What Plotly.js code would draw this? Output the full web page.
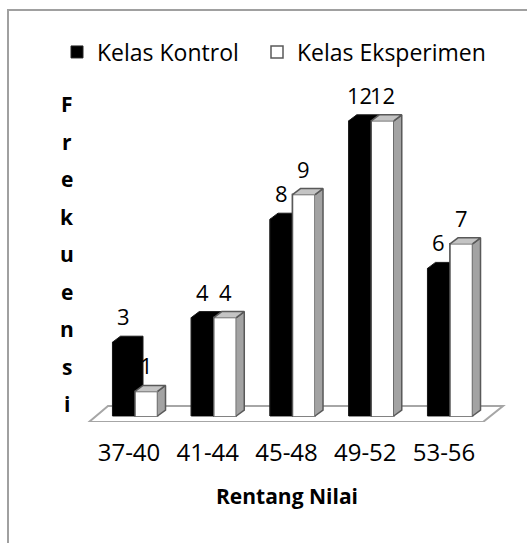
<!DOCTYPE html>
<html>
<head>
<meta charset="utf-8">
<script src="https://cdn.plot.ly/plotly-3.0.1.min.js"></script>
<style>html,body{margin:0;padding:0;background:#fff;}#chart{width:527px;height:543px;}</style>
</head>
<body>
<div id="chart"></div>
<script>
// ---- data ----
const categories = ['37-40', '41-44', '45-48', '49-52', '53-56'];
const kontrol = [3, 4, 8, 12, 6];
const eksperimen = [1, 4, 9, 12, 7];
const seriesNames = ['Kelas Kontrol', 'Kelas Eksperimen'];
const yTitle = 'Frekuensi';
const xTitle = 'Rentang Nilai';

// ---- geometry / style ----
const W = 527, H = 543;
const plotBottomPx = 422;           // bottom of plot area (floor front edge)
const pxPerCat = 78.75, zeroCatPx = 135;
const pxPerUnit = 24.6, zeroValPx = 416;
const barW = 0.286;                 // bar width in category units
const dX = 8 / pxPerCat, dY = 6 / pxPerUnit;   // 3D depth offset
const FONT = 'Open Sans, Noto Sans, sans-serif';

const idx = categories.map((c, i) => i);
const xRange = [-zeroCatPx / pxPerCat, (W - zeroCatPx) / pxPerCat];
const yRange = [-(plotBottomPx - zeroValPx) / pxPerUnit, zeroValPx / pxPerUnit];

function poly(pts, xs, ys) {
  pts.forEach(p => { xs.push(p[0]); ys.push(p[1]); });
  xs.push(null); ys.push(null);
}

// Kontrol prisms (all black)
const kX = [], kY = [];
// Eksperimen faces
const eFx = [], eFy = [], eSx = [], eSy = [], eTx = [], eTy = [];
idx.forEach(i => {
  const v = kontrol[i];
  const a = i - barW, b = i;
  poly([[a, 0], [a, v], [a + dX, v + dY], [b + dX, v + dY], [b + dX, dY], [b, 0]], kX, kY);
  const u = eksperimen[i];
  const c = i, d = i + barW;
  poly([[c, 0], [c, u], [d, u], [d, 0]], eFx, eFy);
  poly([[d, 0], [d + dX, dY], [d + dX, u + dY], [d, u]], eSx, eSy);
  poly([[c, u], [c + dX, u + dY], [d + dX, u + dY], [d, u]], eTx, eTy);
});

const edge = '#595959';
const traces = [
  {type: 'bar', name: seriesNames[0], x: idx, y: kontrol, base: 0, legend: 'legend',
   marker: {color: '#000000', line: {color: '#262626', width: 1}}, hoverinfo: 'skip'},
  {type: 'bar', name: seriesNames[1], x: idx, y: eksperimen, base: 0, legend: 'legend2',
   marker: {color: '#ffffff', line: {color: edge, width: 1.5}}, hoverinfo: 'skip'},
  {type: 'scatter', mode: 'lines', x: kX, y: kY, fill: 'toself', fillcolor: '#000000',
   line: {color: '#1a1a1a', width: 1}, showlegend: false, hoverinfo: 'skip'},
  {type: 'scatter', mode: 'lines', x: eFx, y: eFy, fill: 'toself', fillcolor: '#ffffff',
   line: {color: edge, width: 1.5}, showlegend: false, hoverinfo: 'skip'},
  {type: 'scatter', mode: 'lines', x: eSx, y: eSy, fill: 'toself', fillcolor: '#a3a3a3',
   line: {color: edge, width: 1.5}, showlegend: false, hoverinfo: 'skip'},
  {type: 'scatter', mode: 'lines', x: eTx, y: eTy, fill: 'toself', fillcolor: '#c4c4c4',
   line: {color: edge, width: 1.5}, showlegend: false, hoverinfo: 'skip'}
];

// floor (parallelogram under the bars)
const n = categories.length;
const fy0 = yRange[0], fy1 = 10 / pxPerUnit;
const floorPath = 'M ' + (0 - 0.584) + ',' + fy0 + ' L ' + (n - 1 + 0.419) + ',' + fy0 +
  ' L ' + (n - 1 + 0.673) + ',' + fy1 + ' L ' + (0 - 0.343) + ',' + fy1 + ' Z';

const shapes = [
  {type: 'path', xref: 'x', yref: 'y', path: floorPath, layer: 'below',
   fillcolor: '#ffffff', line: {color: '#a6a6a6', width: 2}},
  {type: 'rect', xref: 'paper', yref: 'paper', x0: 8 / W, x1: 1.2,
   y0: -1, y1: (plotBottomPx - 10) / plotBottomPx, layer: 'below',
   line: {color: '#a0a0a0', width: 2}, fillcolor: 'rgba(0,0,0,0)'}
];

const annotations = [];
// data labels
idx.forEach(i => {
  annotations.push({x: i - barW / 2, y: kontrol[i], text: String(kontrol[i]), showarrow: false,
    yanchor: 'middle', yshift: 26, font: {family: FONT, size: 22, color: '#000'}});
  annotations.push({x: i + barW / 2, y: eksperimen[i], text: String(eksperimen[i]), showarrow: false,
    yanchor: 'middle', yshift: 26, font: {family: FONT, size: 22, color: '#000'}});
});
// stacked y title letters
yTitle.split('').forEach((ch, k) => {
  const cy = 104 + 37.5 * k;
  annotations.push({xref: 'paper', yref: 'paper', x: 67 / W, y: (plotBottomPx - cy) / plotBottomPx,
    xanchor: 'center', yanchor: 'middle', text: '<b>' + ch + '</b>', showarrow: false,
    font: {family: FONT, size: 21, color: '#000'}});
});
// x title
annotations.push({xref: 'paper', yref: 'paper', x: 287 / W, y: (plotBottomPx - 496) / plotBottomPx,
  xanchor: 'center', yanchor: 'middle', text: '<b>' + xTitle + '</b>', showarrow: false,
  font: {family: FONT, size: 21, color: '#000'}});

const legendBase = {orientation: 'h', xanchor: 'left', y: (plotBottomPx - 52) / plotBottomPx, yanchor: 'middle',
  font: {family: FONT, size: 23, color: '#000'}, bgcolor: 'rgba(0,0,0,0)', borderwidth: 0};

const layout = {
  width: W, height: H,
  margin: {l: 0, r: 0, t: 0, b: H - plotBottomPx, pad: 0},
  paper_bgcolor: '#ffffff', plot_bgcolor: 'rgba(0,0,0,0)',
  barmode: 'group', bargap: 1 - 2 * barW, bargroupgap: 0,
  showlegend: true,
  legend: Object.assign({}, legendBase, {x: 57 / W}),
  legend2: Object.assign({}, legendBase, {x: 257 / W}),
  xaxis: {type: 'linear', range: xRange, tickvals: idx, ticktext: categories, showgrid: false,
    zeroline: false, showline: false, ticks: '', fixedrange: true,
    tickfont: {family: FONT, size: 24, color: '#000'}, ticklabelshift: -6, ticklabelstandoff: 14},
  yaxis: {range: yRange, visible: false, showgrid: false, zeroline: false, fixedrange: true},
  shapes: shapes,
  annotations: annotations
};

Plotly.newPlot('chart', traces, layout, {displayModeBar: false, staticPlot: true});
</script>
</body>
</html>
